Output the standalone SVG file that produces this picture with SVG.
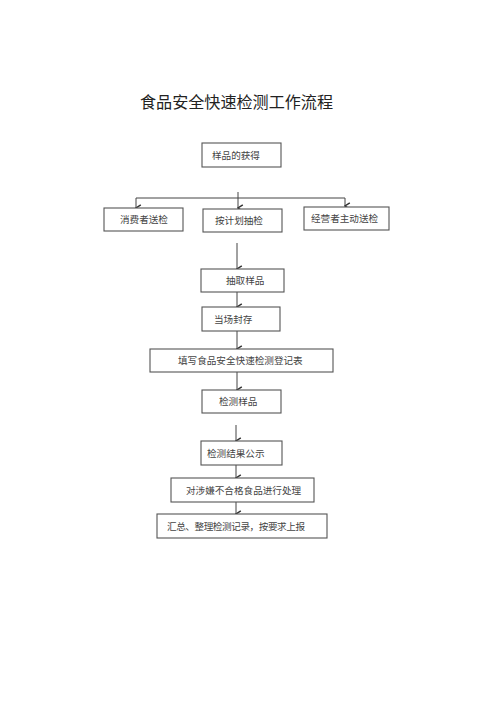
<svg xmlns="http://www.w3.org/2000/svg" width="500" height="708" viewBox="0 0 500 708">
<style>
.box{fill:#fff;stroke:#555;stroke-width:1.1}
.t{font-family:"Noto Sans CJK SC","Noto Sans CJK JP",sans-serif;font-size:9.6px;fill:#444}
.title{font-family:"Noto Sans CJK SC","Noto Sans CJK JP",sans-serif;font-size:16px;fill:#222}
.ln{fill:none;stroke:#444;stroke-width:1}
</style>
<defs>
<marker id="ah" viewBox="0 0 10 10" refX="5" refY="9" markerWidth="8" markerHeight="8" orient="auto-start-reverse" markerUnits="userSpaceOnUse">
<path d="M1,3 L5,9 L9,3" fill="none" stroke="#333" stroke-width="1.8"/>
</marker>
</defs>
<rect width="500" height="708" fill="#fff"/>
<text class="title" x="140" y="108" textLength="193" lengthAdjust="spacingAndGlyphs">食品安全快速检测工作流程</text>

<g id="connectors">
<path class="ln" d="M136,198 H345"/>
<path class="ln" d="M238,192 V208" marker-end="url(#ah)"/>
<path class="ln" d="M136,198 V208" marker-end="url(#ah)"/>
<path class="ln" d="M345,198 V206" marker-end="url(#ah)"/>
<path class="ln" d="M237,243 V269" marker-end="url(#ah)"/>
<path class="ln" d="M237,292 V307" marker-end="url(#ah)"/>
<path class="ln" d="M237,331 V349" marker-end="url(#ah)"/>
<path class="ln" d="M237,372 V390" marker-end="url(#ah)"/>
<path class="ln" d="M236,425 V441" marker-end="url(#ah)"/>
<path class="ln" d="M236,465 V478" marker-end="url(#ah)"/>
<path class="ln" d="M236,502 V514" marker-end="url(#ah)"/>
</g>

<g id="n1"><rect class="box" x="202" y="143" width="79" height="24"/><text class="t" x="212" y="158.5">样品的获得</text></g>
<g id="n2"><rect class="box" x="104" y="208" width="79" height="23"/><text class="t" x="120" y="223">消费者送检</text></g>
<g id="n3"><rect class="box" x="203" y="209" width="79" height="23"/><text class="t" x="215" y="224">按计划抽检</text></g>
<g id="n4"><rect class="box" x="304" y="207" width="85" height="23"/><text class="t" x="311" y="222">经营者主动送检</text></g>
<g id="n5"><rect class="box" x="201" y="269" width="83" height="23"/><text class="t" x="226" y="284">抽取样品</text></g>
<g id="n6"><rect class="box" x="202" y="307" width="78" height="24"/><text class="t" x="214" y="322.5">当场封存</text></g>
<g id="n7"><rect class="box" x="150" y="349" width="183" height="23"/><text class="t" x="178" y="364">填写食品安全快速检测登记表</text></g>
<g id="n8"><rect class="box" x="202" y="390" width="79" height="23"/><text class="t" x="219" y="405">检测样品</text></g>
<g id="n9"><rect class="box" x="201" y="441" width="81" height="24"/><text class="t" x="207" y="456.5">检测结果公示</text></g>
<g id="n10"><rect class="box" x="171" y="478" width="143" height="24"/><text class="t" x="186" y="493.5">对涉嫌不合格食品进行处理</text></g>
<g id="n11"><rect class="box" x="157" y="514" width="170" height="24"/><text class="t" x="167" y="529.5" textLength="138" lengthAdjust="spacing">汇总、整理检测记录，按要求上报</text></g>
</svg>
